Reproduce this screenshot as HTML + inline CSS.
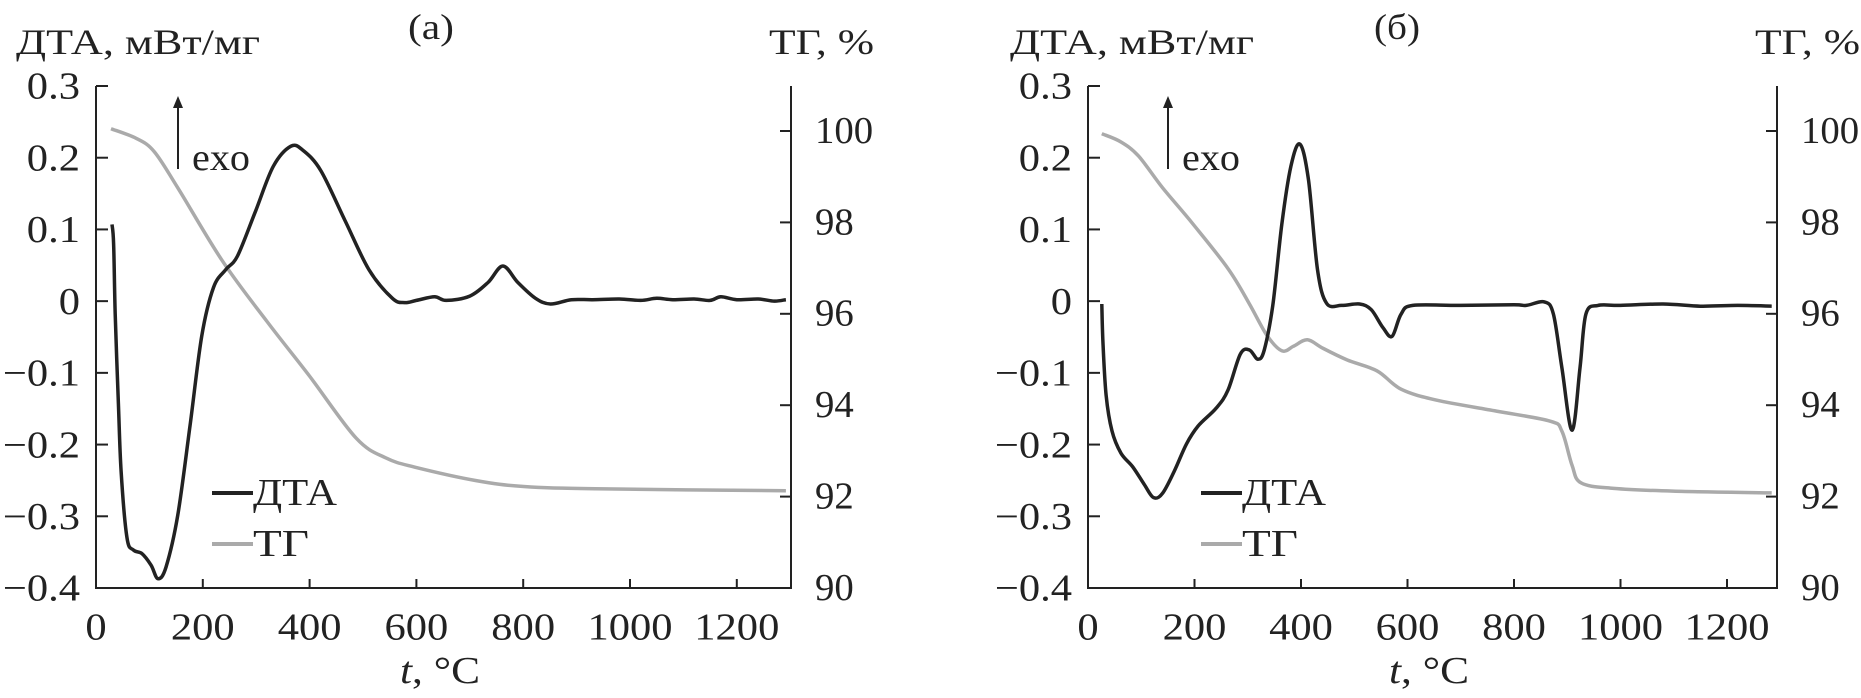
<!DOCTYPE html>
<html><head><meta charset="utf-8"><style>
html,body{margin:0;padding:0;background:#fff;}
svg{display:block;}
text{font-family:"Liberation Serif","DejaVu Serif",serif;fill:#222;}
</style></head><body>
<svg id="fig" width="1861" height="698" viewBox="0 0 1861 698" xmlns="http://www.w3.org/2000/svg"></svg>
<script>
// ---- data (panel a) ----
const dtaA_T = [30,33,36,42,47,58,70,86,103,116,131,153,176,198,220,243,265,299,332,365,388,421,466,511,555,578,600,634,656,700,734,762,790,823,851,890,930,980,1020,1050,1080,1120,1150,1170,1200,1240,1270,1292];
const dtaA_V = [0.107,0.08,-0.018,-0.143,-0.237,-0.33,-0.347,-0.352,-0.368,-0.387,-0.371,-0.299,-0.174,-0.049,0.019,0.044,0.063,0.126,0.188,0.216,0.21,0.182,0.113,0.044,0.004,-0.002,0.001,0.006,0.001,0.007,0.026,0.049,0.026,0.004,-0.004,0.002,0.002,0.003,0.001,0.004,0.002,0.003,0.001,0.006,0.002,0.003,0.0,0.002];
const tgA_T = [28,75,109,153,237,321,399,487,544,599,712,801,935,1292];
const tgA_V = [100.05,99.84,99.55,98.76,97.15,95.82,94.65,93.28,92.84,92.64,92.35,92.22,92.17,92.13];
// ---- data (panel б) ----
const dtaB_T = [26,28,34,45,62,84,106,123,140,162,185,207,241,263,286,303,319,331,347,364,381,398,414,431,448,476,510,532,554,571,588,610,700,800,823,857,874,890,909,924,935,958,1000,1080,1150,1220,1284];
const dtaB_V = [-0.004,-0.056,-0.131,-0.181,-0.212,-0.231,-0.256,-0.274,-0.268,-0.237,-0.199,-0.174,-0.149,-0.124,-0.074,-0.068,-0.081,-0.068,-0.006,0.107,0.188,0.219,0.169,0.044,-0.003,-0.006,-0.004,-0.012,-0.037,-0.049,-0.018,-0.006,-0.006,-0.005,-0.006,-0.001,-0.018,-0.093,-0.18,-0.093,-0.018,-0.006,-0.006,-0.004,-0.007,-0.006,-0.007];
const tgB_T = [26,62,95,140,196,263,303,336,364,386,412,442,487,543,588,655,767,868,890,909,926,987,1099,1284];
const tgB_V = [99.94,99.76,99.45,98.76,97.98,96.99,96.22,95.53,95.19,95.29,95.43,95.24,94.99,94.75,94.35,94.11,93.87,93.65,93.43,92.69,92.3,92.18,92.12,92.08];
const xTicks = [0,200,400,600,800,1000,1200];
const dtaTicks = [0.3,0.2,0.1,0,-0.1,-0.2,-0.3,-0.4];
const dtaTickLabels = ["0.3","0.2","0.1","0","\u22120.1","\u22120.2","\u22120.3","\u22120.4"];
const tgTicks = [100,98,96,94,92,90];

const NS="http://www.w3.org/2000/svg";
const svg=document.getElementById('fig');
function mk(tag,attrs,parent){const e=document.createElementNS(NS,tag);for(const k in attrs)e.setAttribute(k,attrs[k]);(parent||svg).appendChild(e);return e;}
function txt(str,x,y,anchor,size,parent,sx){
  const g=mk('g',{transform:`translate(${x},${y}) scale(${sx||1.12},1)`},parent);
  const t=mk('text',{x:0,y:0,'text-anchor':anchor,'font-size':size,'dominant-baseline':'central'},g);
  t.textContent=str;return t;
}
function fitTxt(str,x,y,w,size,parent){
  const t=mk('text',{x:x,y:y,'font-size':size,'dominant-baseline':'central',textLength:w,lengthAdjust:'spacingAndGlyphs'},parent);
  t.textContent=str;return t;
}
function smooth(pts){
  let d='M'+pts[0][0].toFixed(1)+','+pts[0][1].toFixed(1);
  for(let i=0;i<pts.length-1;i++){
    const p0=pts[Math.max(0,i-1)],p1=pts[i],p2=pts[i+1],p3=pts[Math.min(pts.length-1,i+2)];
    const k=1/6;
    const c1=[p1[0]+(p2[0]-p0[0])*k,p1[1]+(p2[1]-p0[1])*k];
    const c2=[p2[0]-(p3[0]-p1[0])*k,p2[1]-(p3[1]-p1[1])*k];
    d+=` C${c1[0].toFixed(1)},${c1[1].toFixed(1)} ${c2[0].toFixed(1)},${c2[1].toFixed(1)} ${p2[0].toFixed(1)},${p2[1].toFixed(1)}`;
  }
  return d;
}
function panel(cfg){
  const g=mk('g',{});
  
  
  const x0=cfg.x0, x1=cfg.x1, yTop=86, yBot=588;
  const sx=v=>x0+(v/200)*cfg.step;
  const sy=v=>yBot-(v+0.4)/0.7*(yBot-yTop);
  const sy2=v=>yBot-(v-90)/10*(yBot-131);
  const ax=mk('path',{d:`M${x0},${yTop} L${x0},${yBot} L${x1},${yBot} L${x1},${yTop}`,fill:'none',stroke:'#222','stroke-width':2},g);
  
  
  xTicks.forEach(v=>{
    mk('line',{x1:sx(v),x2:sx(v),y1:yBot,y2:yBot-9,stroke:'#222','stroke-width':2},g);
    const t=txt(String(v),sx(v),627,'middle',38,g);
    
    
  });
  dtaTicks.forEach((v,i)=>{
    mk('line',{x1:x0,x2:x0+12,y1:sy(v),y2:sy(v),stroke:'#222','stroke-width':2},g);
    const t=txt(dtaTickLabels[i],x0-16,sy(v),'end',38,g);
    
    
  });
  tgTicks.forEach(v=>{
    mk('line',{x1:x1,x2:x1-11,y1:sy2(v),y2:sy2(v),stroke:'#222','stroke-width':2},g);
    const t=txt(String(v),x1+24,sy2(v),'start',38,g,1.02);
    
    
  });
  const tg=mk('path',{d:smooth(cfg.tgT.map((t,i)=>[sx(t),sy2(cfg.tgV[i])])),fill:'none',stroke:'#aaa','stroke-width':3.5,'stroke-linejoin':'round'},g);
  
  
  const dta=mk('path',{d:smooth(cfg.dtaT.map((t,i)=>[sx(t),sy(cfg.dtaV[i])])),fill:'none',stroke:'#222','stroke-width':3.5,'stroke-linejoin':'round'},g);
  
  
  const L=cfg.leg;
  mk('line',{x1:L,x2:L+41,y1:493,y2:493,stroke:'#222','stroke-width':4},g);
  const l1=fitTxt('ДТА',L+41,493,84,38,g);
  
  
  mk('line',{x1:L,x2:L+41,y1:544,y2:544,stroke:'#aaa','stroke-width':4},g);
  const l2=fitTxt('ТГ',L+41,544,56,38,g);
  
  
  const A=cfg.arrow;
  mk('line',{x1:A,x2:A,y1:169,y2:106,stroke:'#222','stroke-width':2},g);
  mk('path',{d:`M${A-5},${108} L${A},${96} L${A+5},${108} Z`,fill:'#222'},g);
  const ex=fitTxt('exo',A+14,158,58,38,g);
  
  
  const t1=fitTxt('ДТА, мВт/мг',cfg.yl,42,244,36,g);
  
  
  const t2=fitTxt('ТГ, %',cfg.tr,42,105,36,g);
  
  
  const t3=fitTxt(cfg.label,cfg.lc,27,46,36,g);
  
  
  const xl=mk('text',{x:cfg.xc,y:671,'font-size':38,'dominant-baseline':'central',textLength:80,lengthAdjust:'spacingAndGlyphs'},g);
  xl.innerHTML='<tspan font-style="italic">t</tspan>, °C';
  
  
}
panel({name:'panel-a',x0:96,x1:791,step:106.8,dtaT:dtaA_T,dtaV:dtaA_V,tgT:tgA_T,tgV:tgA_V,leg:212,arrow:178,yl:16,tr:769,label:'(a)',lc:408,xc:400});
panel({name:'panel-b',x0:1088,x1:1777,step:106.5,dtaT:dtaB_T,dtaV:dtaB_V,tgT:tgB_T,tgV:tgB_V,leg:1201,arrow:1168,yl:1010,tr:1755,label:'(б)',lc:1374,xc:1389});
</script>
</body></html>
